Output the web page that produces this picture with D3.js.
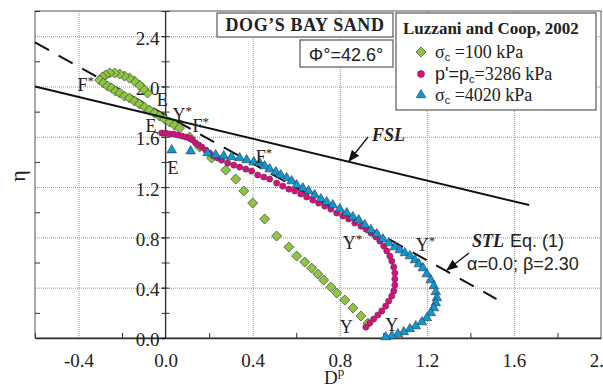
<!DOCTYPE html>
<html>
<head>
<meta charset="utf-8">
<script src="https://cdn.jsdelivr.net/npm/d3@7/dist/d3.min.js"></script>
<style>
  body { margin: 0; background: #fff; }
  svg { display: block; font-family: "Liberation Serif", "Times New Roman", serif; }
  .sans { font-family: "Liberation Sans", Arial, sans-serif; }
</style>
</head>
<body>
<svg id="chart" width="603" height="387"></svg>
<script>
// values: [Dp, eta]
const xTicks = [-0.4, 0.0, 0.4, 0.8, 1.2, 1.6, 2.0];
const yTicks = [0.0, 0.4, 0.8, 1.2, 1.6, 2.0, 2.4];

// sigma_c = 100 kPa
const sand100 = [
  [-0.083, 1.948], [-0.101, 1.979], [-0.120, 2.011], [-0.143, 2.043], [-0.166, 2.067],
  [-0.189, 2.083], [-0.211, 2.099], [-0.234, 2.107], [-0.257, 2.107], [-0.276, 2.091],
  [-0.290, 2.075], [-0.303, 2.051], [-0.285, 2.027], [-0.267, 2.003], [-0.248, 1.987],
  [-0.230, 1.963], [-0.211, 1.948], [-0.189, 1.924], [-0.166, 1.908], [-0.143, 1.884],
  [-0.120, 1.860], [-0.097, 1.836], [-0.074, 1.812], [-0.051, 1.789], [-0.028, 1.765],
  [-0.005, 1.741], [0.018, 1.717], [0.041, 1.693], [0.064, 1.669], [0.110, 1.598],
  [0.156, 1.518], [0.211, 1.431], [0.276, 1.335], [0.322, 1.264], [0.359, 1.169],
  [0.400, 1.073], [0.455, 0.946], [0.510, 0.811], [0.566, 0.723], [0.602, 0.652],
  [0.639, 0.604], [0.671, 0.556], [0.699, 0.509], [0.726, 0.461], [0.759, 0.405],
  [0.786, 0.358], [0.823, 0.302], [0.860, 0.238], [0.897, 0.175], [0.929, 0.119]
];

// p' = pc = 3286 kPa
const sand3286 = [
  [-0.018, 1.630], [0.000, 1.630], [0.018, 1.622], [0.037, 1.622], [0.055, 1.614],
  [0.074, 1.606], [0.092, 1.598], [0.110, 1.590], [0.124, 1.574], [0.138, 1.550],
  [0.152, 1.534], [0.166, 1.518], [0.184, 1.494], [0.202, 1.471], [0.221, 1.447],
  [0.239, 1.431], [0.257, 1.415], [0.285, 1.391], [0.313, 1.375], [0.340, 1.359],
  [0.368, 1.343], [0.395, 1.327], [0.423, 1.296], [0.451, 1.280], [0.478, 1.264],
  [0.510, 1.232], [0.538, 1.208], [0.566, 1.184], [0.593, 1.169], [0.621, 1.145],
  [0.648, 1.121], [0.676, 1.097], [0.703, 1.073], [0.731, 1.049], [0.759, 1.025],
  [0.786, 0.994], [0.814, 0.970], [0.841, 0.946], [0.869, 0.914], [0.897, 0.890],
  [0.920, 0.866], [0.943, 0.835], [0.966, 0.803], [0.984, 0.771], [1.002, 0.731],
  [1.016, 0.692], [1.030, 0.652], [1.039, 0.612], [1.048, 0.564], [1.053, 0.517],
  [1.053, 0.469], [1.053, 0.421], [1.048, 0.374], [1.039, 0.334], [1.025, 0.294],
  [1.011, 0.254], [0.993, 0.215], [0.975, 0.183], [0.956, 0.151], [0.938, 0.119],
  [0.920, 0.087]
];

// sigma_c = 4020 kPa
const sand4020 = [
  [0.028, 1.494], [0.115, 1.486], [0.193, 1.471], [0.230, 1.455], [0.267, 1.447],
  [0.303, 1.439], [0.340, 1.431], [0.372, 1.415], [0.405, 1.399], [0.432, 1.391],
  [0.455, 1.367], [0.478, 1.343], [0.506, 1.320], [0.529, 1.296], [0.556, 1.272],
  [0.579, 1.248], [0.602, 1.216], [0.630, 1.192], [0.657, 1.169], [0.685, 1.137],
  [0.713, 1.105], [0.740, 1.081], [0.768, 1.057], [0.800, 1.025], [0.832, 0.994],
  [0.860, 0.962], [0.887, 0.938], [0.915, 0.898], [0.943, 0.859], [0.970, 0.827],
  [0.998, 0.787], [1.025, 0.755], [1.053, 0.723], [1.076, 0.700], [1.099, 0.676],
  [1.122, 0.652], [1.145, 0.620], [1.163, 0.588], [1.182, 0.556], [1.200, 0.509],
  [1.218, 0.461], [1.232, 0.413], [1.241, 0.366], [1.246, 0.318], [1.241, 0.278],
  [1.232, 0.238], [1.218, 0.199], [1.200, 0.159], [1.177, 0.127], [1.149, 0.095],
  [1.122, 0.072], [1.094, 0.048], [1.067, 0.032], [1.039, 0.016], [1.011, 0.008]
];

// reference lines (end points)
const fslLine = [[-0.6, 2.0], [1.67, 1.057]];
const stlLine = [[-0.6, 2.35], [1.52, 0.31]];

// point labels
const pointLabels = [
  { t: "F", s: "*", at: [-0.405, 1.963] },
  { t: "E", s: "", at: [-0.041, 1.844] },
  { t: "Y", s: "*", at: [0.032, 1.725] },
  { t: "E", s: "", at: [-0.092, 1.638] },
  { t: "E", s: "", at: [0.009, 1.304] },
  { t: "F", s: "*", at: [0.124, 1.638] },
  { t: "F", s: "*", at: [0.414, 1.391] },
  { t: "Y", s: "*", at: [0.814, 0.707] },
  { t: "Y", s: "*", at: [1.149, 0.692] },
  { t: "Y", s: "", at: [0.80, 0.04] },
  { t: "Y", s: "", at: [1.009, 0.056] }
];

const svg = d3.select("#chart");
const x = d3.scaleLinear().domain([-0.6, 2.0]).range([35, 601]);
const y = d3.scaleLinear().domain([0, 2.6]).range([338, 11]);
const minorX = d3.range(-0.6, 2.01, 0.2).map(d => +d.toFixed(1)).filter(d => !xTicks.includes(d));
const minorY = d3.range(0.2, 2.61, 0.4).map(d => +d.toFixed(1));
const allY = d3.range(0.2, 2.61, 0.2).map(d => +d.toFixed(1));

svg.append("defs").append("marker")
  .attr("id", "arrow").attr("viewBox", "0 0 10 10").attr("refX", 9).attr("refY", 5)
  .attr("markerWidth", 9).attr("markerHeight", 9).attr("orient", "auto")
  .append("path").attr("d", "M0,1 L10,5 L0,9 Z").attr("fill", "#111");

// grid
svg.append("g")
  .attr("transform", "translate(0," + y(0) + ")")
  .call(d3.axisBottom(x).tickValues(xTicks.filter(d => d !== 0 && d < 2)).tickSize(-(y(0) - y(2.6))).tickFormat(""))
  .call(g => g.select(".domain").remove())
  .call(g => g.selectAll("line").attr("stroke", "#999").attr("stroke-dasharray", "1,1"));
svg.append("g")
  .attr("transform", "translate(" + x(-0.6) + ",0)")
  .call(d3.axisLeft(y).tickValues(yTicks.filter(d => d > 0)).tickSize(-(x(2.0) - x(-0.6))).tickFormat(""))
  .call(g => g.select(".domain").remove())
  .call(g => g.selectAll("line").attr("stroke", "#999").attr("stroke-dasharray", "1,1"));

// frame
svg.append("rect")
  .attr("x", x(-0.6)).attr("y", y(2.6))
  .attr("width", x(2.0) - x(-0.6)).attr("height", y(0) - y(2.6))
  .attr("fill", "none").attr("stroke", "#555").attr("stroke-width", 1);

// left frame minor ticks
svg.append("g")
  .attr("transform", "translate(" + x(-0.6) + ",0)")
  .call(d3.axisRight(y).tickValues(minorY).tickSize(5).tickFormat(""))
  .call(g => g.select(".domain").remove())
  .call(g => g.selectAll("line").attr("stroke", "#333"));

// x axis
const xAxis = svg.append("g")
  .attr("transform", "translate(0," + y(0) + ")")
  .call(d3.axisBottom(x).tickValues(xTicks).tickSize(0).tickPadding(16).tickFormat(d => d.toFixed(1)));
xAxis.select(".domain").attr("stroke", "#333").attr("stroke-width", 1.6);
xAxis.selectAll("text").attr("font-size", 19).attr("font-family", "Liberation Serif").attr("fill", "#222");
svg.append("g")
  .attr("transform", "translate(0," + y(0) + ")")
  .call(d3.axisTop(x).tickValues(minorX).tickSize(5).tickFormat(""))
  .call(g => g.select(".domain").remove())
  .call(g => g.selectAll("line").attr("stroke", "#333"));

// y axis at Dp = 0
const yAxis = svg.append("g")
  .attr("transform", "translate(" + x(0) + ",0)")
  .call(d3.axisLeft(y).tickValues(yTicks).tickSize(4).tickPadding(2).tickFormat(d => d.toFixed(1)));
yAxis.select(".domain").attr("stroke", "#333").attr("stroke-width", 1.4).attr("d", "M0," + y(0) + "V" + y(2.6));
yAxis.selectAll("text").attr("font-size", 19).attr("font-family", "Liberation Serif").attr("fill", "#222").attr("dy", "0.42em");
svg.append("g")
  .attr("transform", "translate(" + x(0) + ",0)")
  .call(d3.axisLeft(y).tickValues(allY).tickSize(4).tickFormat(""))
  .call(g => g.select(".domain").remove())
  .call(g => g.selectAll("line").attr("stroke", "#333"));
svg.append("g")
  .attr("transform", "translate(" + x(0) + ",0)")
  .call(d3.axisRight(y).tickValues(allY).tickSize(4).tickFormat(""))
  .call(g => g.select(".domain").remove())
  .call(g => g.selectAll("line").attr("stroke", "#333"));

// axis titles
svg.append("text")
  .attr("transform", "translate(25,176) rotate(-90)")
  .attr("text-anchor", "middle").attr("font-size", 22).attr("fill", "#222")
  .text("η");
const dp = svg.append("text").attr("x", 324).attr("y", 384).attr("font-size", 19).attr("fill", "#222");
dp.append("tspan").text("D");
dp.append("tspan").attr("dy", -8).attr("font-size", 13).text("p");

const line = d3.line().x(d => x(d[0])).y(d => y(d[1]));

// STL dashed line (under markers)
svg.append("path").datum(stlLine).attr("d", line)
  .attr("fill", "none").attr("stroke", "#111").attr("stroke-width", 2).attr("stroke-dasharray", "16,11");

// markers
const diamond = d3.symbol().type(d3.symbolSquare).size(50);
svg.append("g").selectAll("path").data(sand100).join("path")
  .attr("d", diamond)
  .attr("transform", d => "translate(" + x(d[0]) + "," + y(d[1]) + ") rotate(45)")
  .attr("fill", "#8dc63f").attr("stroke", "#444").attr("stroke-width", 0.7);

svg.append("g").selectAll("circle").data(sand3286).join("circle")
  .attr("cx", d => x(d[0])).attr("cy", d => y(d[1])).attr("r", 3.1)
  .attr("fill", "#e5097f").attr("stroke", "#444").attr("stroke-width", 0.6);

const tri = d3.symbol().type(d3.symbolTriangle).size(40);
svg.append("g").selectAll("path").data(sand4020).join("path")
  .attr("d", tri)
  .attr("transform", d => "translate(" + x(d[0]) + "," + y(d[1]) + ")")
  .attr("fill", "#0c97d6").attr("stroke", "#333").attr("stroke-width", 0.6);

// FSL solid line
svg.append("path").datum(fslLine).attr("d", line)
  .attr("fill", "none").attr("stroke", "#111").attr("stroke-width", 2);

// point labels
pointLabels.forEach(p => {
  const t = svg.append("text").attr("x", x(p.at[0])).attr("y", y(p.at[1]))
    .attr("font-size", 18).attr("fill", "#222");
  t.append("tspan").text(p.t);
  if (p.s) t.append("tspan").attr("dy", -6).attr("font-size", 13).text(p.s);
});

// FSL annotation
svg.append("line").attr("x1", 368).attr("y1", 137).attr("x2", 349).attr("y2", 161)
  .attr("stroke", "#111").attr("stroke-width", 1.3).attr("marker-end", "url(#arrow)");
svg.append("text").attr("x", 372).attr("y", 141)
  .attr("font-size", 18).attr("font-weight", "bold").attr("font-style", "italic").attr("fill", "#222")
  .text("FSL");

// STL annotation
svg.append("line").attr("x1", 469).attr("y1", 253).attr("x2", 447).attr("y2", 270)
  .attr("stroke", "#111").attr("stroke-width", 1.3).attr("marker-end", "url(#arrow)");
const stlT = svg.append("text").attr("x", 472).attr("y", 247).attr("font-size", 18).attr("fill", "#222");
stlT.append("tspan").attr("font-weight", "bold").attr("font-style", "italic").text("STL");
stlT.append("tspan").attr("class", "sans").attr("dx", 6).text("Eq. (1)");
svg.append("text").attr("class", "sans").attr("x", 467).attr("y", 270)
  .attr("font-size", 18).attr("fill", "#222").text("α=0.0; β=2.30");

// title boxes
svg.append("rect").attr("x", 217).attr("y", 13).attr("width", 176).attr("height", 24)
  .attr("fill", "#fff").attr("stroke", "#666").attr("stroke-width", 1.3);
svg.append("text").attr("x", 305).attr("y", 31).attr("text-anchor", "middle")
  .attr("font-size", 18).attr("font-weight", "bold").attr("letter-spacing", 0.6).attr("fill", "#222")
  .text("DOG’S BAY SAND");
svg.append("rect").attr("x", 300).attr("y", 40).attr("width", 93).attr("height", 27)
  .attr("fill", "#fff").attr("stroke", "#666").attr("stroke-width", 1.3);
svg.append("text").attr("class", "sans").attr("x", 346).attr("y", 61).attr("text-anchor", "middle")
  .attr("font-size", 18).attr("fill", "#222").text("Φ°=42.6°");

// legend
const legend = svg.append("g");
legend.append("rect").attr("x", 396).attr("y", 13).attr("width", 200).attr("height", 97)
  .attr("fill", "#fff").attr("stroke", "#666").attr("stroke-width", 1.3);
legend.append("text").attr("x", 403).attr("y", 34)
  .attr("font-size", 17).attr("font-weight", "bold").attr("fill", "#222")
  .text("Luzzani and Coop, 2002");

const legendRows = [
  { y: 52, sym: "diamond", pre: "σ", preSans: false, num: " =100 kPa" },
  { y: 74, sym: "circle", pre: "p'=p", preSans: true, num: "=3286 kPa" },
  { y: 95, sym: "triangle", pre: "σ", preSans: false, num: " =4020 kPa" }
];
legendRows.forEach(r => {
  if (r.sym === "diamond") {
    legend.append("path").attr("d", diamond).attr("transform", "translate(421," + r.y + ") rotate(45)")
      .attr("fill", "#8dc63f").attr("stroke", "#444").attr("stroke-width", 0.7);
  } else if (r.sym === "circle") {
    legend.append("circle").attr("cx", 421).attr("cy", r.y).attr("r", 3.5)
      .attr("fill", "#e5097f").attr("stroke", "#444").attr("stroke-width", 0.6);
  } else {
    legend.append("path").attr("d", tri).attr("transform", "translate(421," + r.y + ")")
      .attr("fill", "#0c97d6").attr("stroke", "#333").attr("stroke-width", 0.6);
  }
  const t = legend.append("text").attr("x", 435).attr("y", r.y + 6).attr("font-size", 18).attr("fill", "#222");
  t.append("tspan").attr("class", r.preSans ? "sans" : null).text(r.pre);
  t.append("tspan").attr("class", "sans").attr("font-size", 11).attr("dy", 3).text("c");
  t.append("tspan").attr("dy", -3).text(r.num);
});
</script>
</body>
</html>
